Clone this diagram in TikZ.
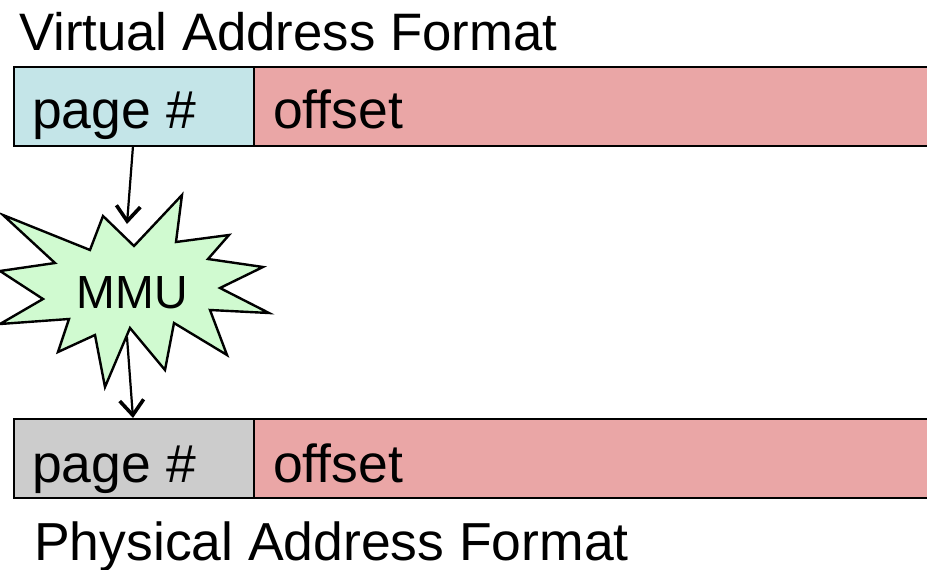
\documentclass[tikz,border=0pt]{standalone}
\usepackage{fontspec}
\setmainfont{Liberation Sans}
\usetikzlibrary{arrows.meta}
\definecolor{pageblue}{RGB}{196,229,232}
\definecolor{offpink}{RGB}{234,166,166}
\definecolor{pagegray}{RGB}{204,204,204}
\definecolor{mmugreen}{RGB}{208,250,208}
\tikzset{
  field/.style={draw=black, line width=2.8pt},
  bigtxt/.style={inner sep=0pt, anchor=base west, font=\fontsize{53.5}{60}\selectfont},
  conn/.style={line width=2.2pt, -{Straight Barb[length=15pt,width=24pt,line width=3.6pt]}},
}
\begin{document}
\begin{tikzpicture}[x=1pt,y=-1pt]
\useasboundingbox (0,0) rectangle (927,570);
% virtual address
\node[bigtxt, font=\fontsize{52.7}{60}\selectfont] (vtitle) at (19,50) {Virtual Address Format};
\path[field, fill=pageblue] (14,67) rectangle (254,146);
\path[field, fill=offpink] (254,67) rectangle (928,146);
\coordinate (vp) at (133,146);
\node[bigtxt] (vpage) at (32,128) {page \#};
\node[bigtxt] (voff) at (273,128) {offset};
% MMU starburst
\draw[line width=2.4pt, fill=mmugreen, line join=miter]
  (182,195) -- (176,242) -- (229,235) -- (208,259) -- (263,267) -- (220,288)
  -- (269,313) -- (210,310) -- (227,355) -- (174,323) -- (165,370) -- (130,328)
  -- (105,387) -- (95,335) -- (58,352) -- (69,319) -- (0,324) -- (43,299)
  -- (0,271) -- (55,263) -- (3,215) -- (90,250) -- (103,216) -- (134,246) -- cycle;
\node[inner sep=0pt, anchor=base, font=\fontsize{46.5}{50}\selectfont] (mmu) at (132.5,308) {MMU};
\coordinate (min) at (127,224);
\coordinate (mout) at (127,337);
% physical address
\path[field, fill=pagegray] (14,419) rectangle (254,498);
\path[field, fill=offpink] (254,419) rectangle (928,498);
\coordinate (pp) at (133,418);
\node[bigtxt] (ppage) at (32,482) {page \#};
\node[bigtxt] (poff) at (273,482) {offset};
\node[bigtxt] (ptitle) at (34,560) {Physical Address Format};
% arrows
\draw[conn] (vp) -- (min);
\draw[conn] (mout) -- (pp);
\end{tikzpicture}
\end{document}
